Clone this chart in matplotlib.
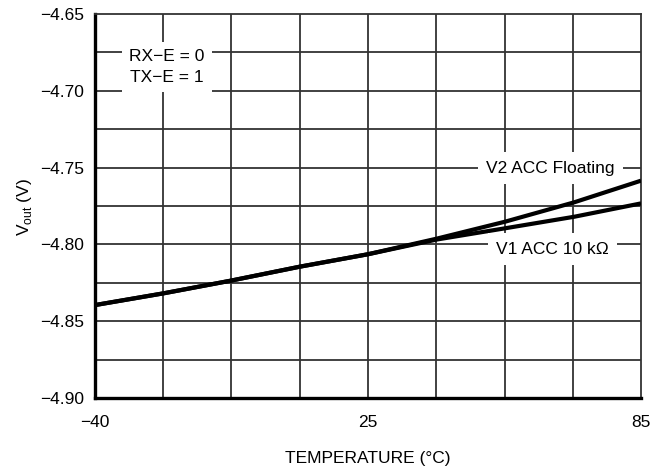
import matplotlib
matplotlib.use("Agg")
import matplotlib.pyplot as plt
import numpy as np

plt.rcParams["font.family"] = ["Liberation Sans Narrow", "Liberation Sans", "DejaVu Sans"]
plt.rcParams["font.size"] = 12.5

# temperatures (deg C) read at the grid columns
temp = [-40, -24.4, -8.9, 6.9, 22.5, 38.3, 53.9, 69.7, 85]
v2_floating = [-4.8395, -4.8319, -4.8236, -4.8145, -4.8064, -4.7962, -4.7852, -4.7726, -4.7585]
v1_10k = [-4.8395, -4.8319, -4.8236, -4.8145, -4.8064, -4.7968, -4.7895, -4.7820, -4.7733]

x_tick_pos = [-40, 22.5, 85]
x_tick_labels = ["\u221240", "25", "85"]
y_ticks = [-4.90, -4.85, -4.80, -4.75, -4.70, -4.65]
y_tick_labels = ["\u22124.90", "\u22124.85", "\u22124.80", "\u22124.75", "\u22124.70", "\u22124.65"]

fig = plt.figure(figsize=(6.66, 4.75), dpi=100)
ax = fig.add_axes([0.1426, 0.1621, 0.8199, 0.8084])

ax.set_xlim(-40, 85)
ax.set_ylim(-4.90, -4.65)

ax.set_xticks(x_tick_pos)
ax.set_xticklabels(x_tick_labels)
ax.set_yticks(y_ticks)
ax.set_yticklabels(y_tick_labels)

# grid: 8 columns, 10 rows
for xg in np.linspace(-40, 85, 9)[1:-1]:
    ax.axvline(xg, color="#333333", linewidth=1.3, zorder=1)
for yg in np.linspace(-4.90, -4.65, 11)[1:-1]:
    ax.axhline(yg, color="#333333", linewidth=1.3, zorder=1)

ax.tick_params(which="both", length=0)
ax.tick_params(axis="x", pad=12)
ax.tick_params(axis="y", pad=8)

for side in ["left", "bottom"]:
    ax.spines[side].set_linewidth(2.4)
for side in ["top", "right"]:
    ax.spines[side].set_linewidth(1.3)
    ax.spines[side].set_color("#333333")

ax.plot(temp, v1_10k, color="black", linewidth=3, solid_capstyle="butt", zorder=3)
ax.plot(temp, v2_floating, color="black", linewidth=3, solid_capstyle="butt", zorder=3)

ax.text(-23.5, -4.6845, "RX\u2212E = 0\nTX\u2212E = 1", ha="center", va="center",
        linespacing=1.55, bbox=dict(facecolor="white", edgecolor="none", pad=5), zorder=4)
ax.text(64.2, -4.7503, "V2 ACC Floating", ha="center", va="center",
        bbox=dict(facecolor="white", edgecolor="none", pad=6), zorder=4)
ax.text(64.8, -4.803, "V1 ACC 10 k\u03a9", ha="center", va="center",
        bbox=dict(facecolor="white", edgecolor="none", pad=6), zorder=4)

ax.set_xlabel("TEMPERATURE (\u00b0C)")
ax.set_ylabel("V$_{\\mathregular{out}}$ (V)")
ax.xaxis.set_label_coords(0.5, -0.139)
ax.yaxis.set_label_coords(-0.112, 0.497)

fig.savefig("out.png", dpi=100)
